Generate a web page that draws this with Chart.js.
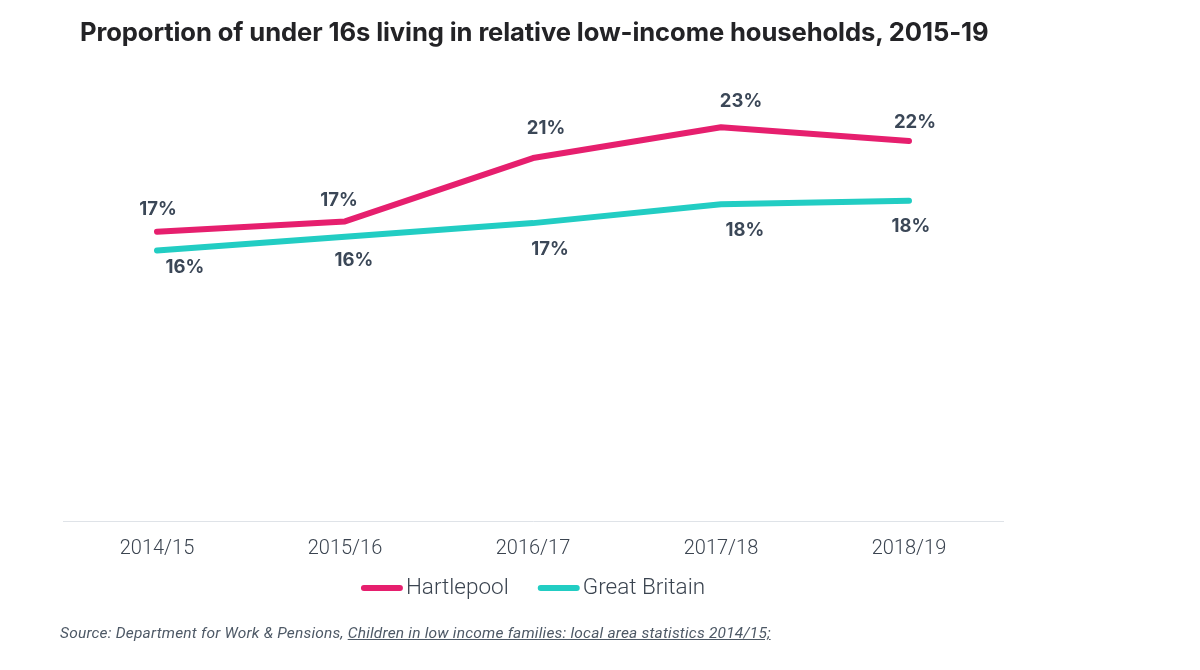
<!DOCTYPE html>
<html>
<head>
<meta charset="utf-8">
<script src="https://cdn.jsdelivr.net/npm/chart.js@4/dist/chart.umd.min.js"></script>
<style>
  html, body { margin: 0; padding: 0; background: #fff; }
  #wrap { position: relative; width: 1200px; height: 670px; overflow: hidden; }
  #ChartCanvas { position: absolute; left: 0; top: 0; }
  #Title {
    position: absolute; left: 80px; top: 16px; margin: 0;
    font-family: Inter, "Noto Sans", sans-serif; font-weight: 700; font-size: 25.6px;
    color: #232326; white-space: nowrap; letter-spacing: -0.1px;
  }
  #Source {
    position: absolute; left: 60px; top: 624px; margin: 0;
    font-family: Roboto, sans-serif; font-style: italic; font-weight: 400; font-size: 15.5px;
    color: #4e5966; white-space: nowrap; letter-spacing: 0.2px;
  }
  #Source span { text-decoration: underline; }
</style>
</head>
<body>
<div id="wrap">
  <canvas id="ChartCanvas" width="1200" height="670"></canvas>
  <p id="Title">Proportion of under 16s living in relative low-income households, 2015-19</p>
  <p id="Source">Source: Department for Work &amp; Pensions, <span>Children in low income families: local area statistics 2014/15;</span></p>
</div>
<script>
const years = ["2014/15", "2015/16", "2016/17", "2017/18", "2018/19"];

const hartlepool = [16.9, 17.5, 21.2, 23.0, 22.2];
const greatBritain = [15.8, 16.6, 17.4, 18.5, 18.7];

// labels as printed on the chart
const hartlepoolLabels = ["17%", "17%", "21%", "23%", "22%"];
const greatBritainLabels = ["16%", "16%", "17%", "18%", "18%"];

// where each label sits relative to its point
const labelOffsets = [
    [[1, -22], [-6, -21], [13, -30], [20, -26], [6, -18]],
    [[28, 17], [9, 24], [17, 26], [24, 26], [2, 26]]
];
const pointLabels = [hartlepoolLabels, greatBritainLabels];

const valueLabels = {
    id: "valueLabels",
    afterDatasetsDraw(chart) {
        const ctx = chart.ctx;
        ctx.save();
        ctx.font = "700 18.5px Inter, 'Noto Sans', sans-serif";
        ctx.fillStyle = "#3b4757";
        ctx.textAlign = "center";
        ctx.textBaseline = "middle";
        chart.data.datasets.forEach((ds, d) => {
            chart.getDatasetMeta(d).data.forEach((pt, i) => {
                const off = labelOffsets[d][i];
                ctx.fillText(pointLabels[d][i], pt.x + off[0], pt.y + off[1]);
            });
        });
        ctx.restore();
    }
};

// legend with a short line right next to the name
const lineLegend = {
    id: "lineLegend",
    afterDraw(chart) {
        const ctx = chart.ctx;
        const area = chart.chartArea;
        const lineLen = 42, textGap = 3, itemGap = 29;
        const y = 588;
        ctx.save();
        ctx.font = "300 22.5px Roboto, sans-serif";
        const widths = chart.data.datasets.map(ds => ctx.measureText(ds.label).width);
        let total = 0;
        widths.forEach((w, i) => { total += lineLen + textGap + w + (i ? itemGap : 0); });
        let x = (area.left + area.right) / 2 - total / 2;
        chart.data.datasets.forEach((ds, i) => {
            if (i) x += itemGap;
            ctx.beginPath();
            ctx.lineCap = "round";
            ctx.lineWidth = 6;
            ctx.strokeStyle = ds.borderColor;
            ctx.moveTo(x + 3, y);
            ctx.lineTo(x + lineLen - 3, y);
            ctx.stroke();
            x += lineLen + textGap;
            ctx.fillStyle = "#3b4450";
            ctx.textBaseline = "middle";
            ctx.fillText(ds.label, x, y);
            x += widths[i];
        });
        ctx.restore();
    }
};

const ctx = document.getElementById("ChartCanvas").getContext("2d");
const chart = new Chart(ctx, {
    type: "line",
    data: {
        labels: years,
        datasets: [{
            label: "Hartlepool",
            data: hartlepool,
            borderColor: "#e61f6e",
            backgroundColor: "#e61f6e",
            borderWidth: 6,
            borderCapStyle: "round",
            borderJoinStyle: "round",
            pointRadius: 0,
            tension: 0
        }, {
            label: "Great Britain",
            data: greatBritain,
            borderColor: "#22cdc3",
            backgroundColor: "#22cdc3",
            borderWidth: 6,
            borderCapStyle: "round",
            borderJoinStyle: "round",
            pointRadius: 0,
            tension: 0
        }]
    },
    options: {
        animation: false,
        responsive: false,
        layout: { padding: { left: 63, right: 197, top: 93, bottom: 102 } },
        plugins: {
            tooltip: { enabled: false },
            legend: { display: false }
        },
        scales: {
            x: {
                offset: true,
                grid: { display: false },
                border: { display: true, color: "#dfe3e8", width: 1 },
                ticks: {
                    padding: 7.5,
                    color: "#3b4450",
                    font: { family: "Roboto", weight: 300, size: 20 }
                }
            },
            y: {
                display: false,
                min: 0,
                max: 25
            }
        }
    },
    plugins: [valueLabels, lineLegend]
});
</script>
</body>
</html>
